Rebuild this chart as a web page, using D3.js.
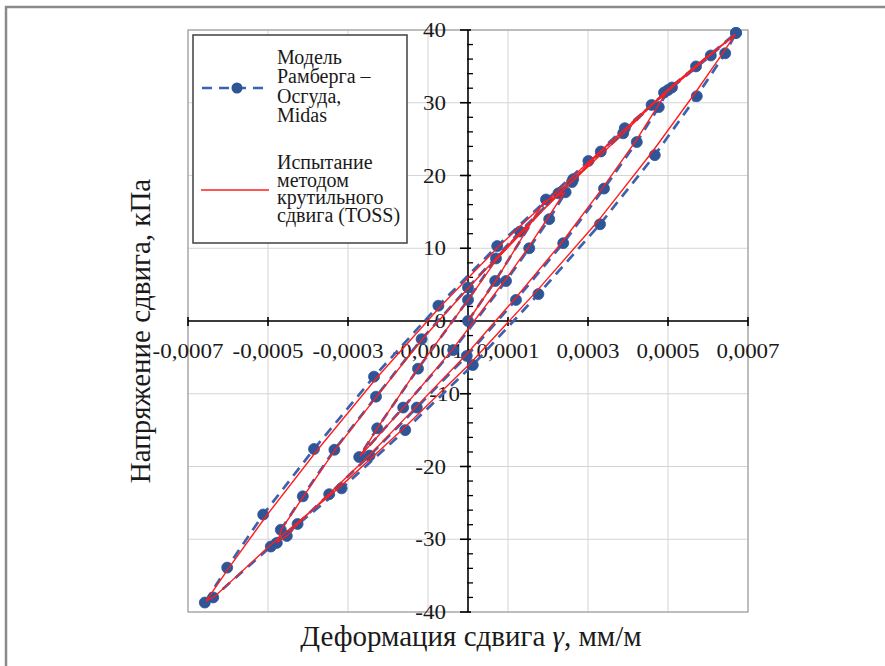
<!DOCTYPE html>
<html><head><meta charset="utf-8">
<script src="https://cdn.jsdelivr.net/npm/d3@7"></script>
<style>
body{margin:0;background:#fff;}
svg{display:block;}
svg text{font-family:"Liberation Serif","DejaVu Serif","Times New Roman",serif;}
</style>
</head><body>
<svg id="c" width="885" height="666"></svg>
<script>
// ---------- data ----------
const xTickValues = [-0.0007,-0.0005,-0.0003,-0.0001,0.0001,0.0003,0.0005,0.0007];
const xTickLabels = ["-0,0007","-0,0005","-0,0003","-0,0001","0,0001","0,0003","0,0005","0,0007"];
const yTickValues = [-40,-30,-20,-10,0,10,20,30,40];
const yTickLabels = ["-40","-30","-20","-10","0","10","20","30","40"];

const legendLines1 = ["Модель","Рамберга –","Осгуда,","Midas"];
const legendLines2 = ["Испытание","методом","крутильного","сдвига (TOSS)"];

// Midas (Ramberg–Osgood) model, in order of loading path
const midasBackbone1 = [[0,0],[0.000068,5.5],[0.000195,16.7],[0.000244,17.7]];
const midasUnload1   = [[0.000203,14.0],[0.000153,10.0],[0.000095,5.5],[-0.000037,-4.0],[-0.000162,-11.9],[-0.000272,-18.7]];
const midasReload1   = [[-0.000227,-14.75],[-0.000125,-6.55],[0,2.9],[0.00007,8.6],[0.000226,17.55]];
const midasBackbone2 = [[0.00026,19.1],[0.000332,23.3],[0.000459,29.7],[0.0005,31.75]];
const midasUnload2   = [[0.000477,29.4],[0.000422,24.6],[0.00034,18.2],[0.000238,10.7],[0.00012,2.9],[-0.000003,-4.8],[-0.000128,-11.9],[-0.000246,-18.5],[-0.000347,-23.8],[-0.000426,-27.9],[-0.000453,-29.55],[-0.000478,-30.5]];
const midasReload2   = [[-0.000468,-28.7],[-0.000413,-24.1],[-0.000334,-17.7],[-0.00023,-10.4],[-0.000116,-2.5],[0,4.6],[0.00013,12.3],[0.000263,19.5],[0.000388,25.8],[0.00049,31.4]];
const midasBackbone3 = [[0.00057,35.0],[0.00067,39.6]];
const midasUnload3   = [[0.000643,36.8],[0.000572,30.9],[0.000467,22.8],[0.00033,13.3],[0.000176,3.7],[0.000012,-6.05],[-0.000157,-15.0],[-0.000316,-23.0],[-0.000493,-31.0],[-0.000637,-38.0],[-0.000658,-38.7]];
const midasReload3   = [[-0.000602,-33.9],[-0.000512,-26.6],[-0.000385,-17.6],[-0.000235,-7.65],[-0.000074,2.1],[0.000073,10.3],[0.000301,22.0],[0.000392,26.5],[0.00051,32.1],[0.000607,36.5],[0.00067,39.6]];

// TOSS test (red line), in order of loading path
const tossBackbone1 = [[0,0],[0.00007,5.6],[0.00019,16.4],[0.00024,17.6]];
const tossUnload1   = [[0.0002,14.2],[0.000152,10.2],[0.000094,5.7],[-0.00004,-4.0],[-0.00016,-11.8],[-0.00027,-18.6]];
const tossReload1   = [[-0.000225,-14.6],[-0.000124,-6.4],[0.000002,3.0],[0.000072,8.5],[0.000224,17.4]];
const tossBackbone2 = [[0.00026,19.2],[0.00033,23.2],[0.000455,29.6],[0.000498,31.6]];
const tossUnload2   = [[0.000474,29.5],[0.00042,24.8],[0.000338,18.4],[0.000236,10.9],[0.000118,3.1],[-0.000004,-4.6],[-0.000128,-11.7],[-0.000244,-18.3],[-0.000344,-23.6],[-0.000424,-27.8],[-0.000452,-29.5],[-0.000476,-30.4]];
const tossReload2   = [[-0.000466,-28.6],[-0.00041,-24.0],[-0.000331,-17.6],[-0.000227,-10.3],[-0.000113,-2.4],[0.000002,4.6],[0.000131,12.2],[0.000263,19.3],[0.000387,25.7],[0.000489,31.3]];
const tossBackbone3 = [[0.00057,35.1],[0.000668,39.4]];
const tossUnload3   = [[0.000638,36.9],[0.000566,31.2],[0.00046,23.2],[0.000323,13.6],[0.00017,4.0],[0.000006,-5.8],[-0.000162,-14.8],[-0.00032,-22.8],[-0.000496,-30.9],[-0.000634,-37.9],[-0.000655,-38.5]];
const tossReload3   = [[-0.000596,-33.8],[-0.000503,-26.7],[-0.000376,-17.7],[-0.000228,-7.8],[-0.000069,2.0],[0.000076,10.2],[0.000302,21.9],[0.000392,26.4],[0.000508,32.0],[0.000605,36.5],[0.000668,39.4]];

// ---------- chart ----------
const midas = [].concat(midasBackbone1,midasUnload1,midasReload1,midasBackbone2,midasUnload2,midasReload2,midasBackbone3,midasUnload3,midasReload3);
const toss  = [].concat(tossBackbone1,tossUnload1,tossReload1,tossBackbone2,tossUnload2,tossReload2,tossBackbone3,tossUnload3,tossReload3);

const FONT = "Liberation Serif, DejaVu Serif, Times New Roman, serif";
const svg = d3.select("#c");
const blueLine = "#3A62B0", blueMark = "#2F5597", red = "#FF1E1E", txt = "#1a1a1a";
const x = d3.scaleLinear().domain([-0.0007,0.0007]).range([188,748]);
const y = d3.scaleLinear().domain([-40,40]).range([612,30]);

// outer frame
svg.append("path").attr("d","M6,700 L6,7 L890,7").attr("fill","none").attr("stroke","#8a8a8a").attr("stroke-width",2.5);

// gridlines
const g = svg.append("g");
g.selectAll(".vg").data(xTickValues).join("line")
  .attr("x1",d=>x(d)).attr("x2",d=>x(d)).attr("y1",y(40)).attr("y2",y(-40))
  .attr("stroke","#d4d4d4").attr("stroke-width",1);
g.selectAll(".hg").data(yTickValues).join("line")
  .attr("x1",x(-0.0007)).attr("x2",x(0.0007)).attr("y1",d=>y(d)).attr("y2",d=>y(d))
  .attr("stroke","#d4d4d4").attr("stroke-width",1);
g.append("rect").attr("x",x(-0.0007)).attr("y",y(40)).attr("width",x(0.0007)-x(-0.0007)).attr("height",y(-40)-y(40))
  .attr("fill","none").attr("stroke","#a0a0a0").attr("stroke-width",1.2);

// axes through zero
const ax = svg.append("g").attr("stroke","#000");
ax.append("line").attr("x1",x(-0.0007)).attr("x2",x(0.0007)).attr("y1",y(0)).attr("y2",y(0)).attr("stroke-width",1.6);
ax.append("line").attr("x1",x(0)).attr("x2",x(0)).attr("y1",y(40)).attr("y2",y(-40)).attr("stroke-width",1.6);
ax.selectAll(".xt").data(xTickValues).join("line")
  .attr("x1",d=>x(d)).attr("x2",d=>x(d)).attr("y1",y(0)-4).attr("y2",y(0)+5).attr("stroke-width",1.6);
ax.selectAll(".yt").data(yTickValues).join("line")
  .attr("x1",x(0)-8).attr("x2",x(0)+3).attr("y1",d=>y(d)).attr("y2",d=>y(d)).attr("stroke-width",1.6);
const yMinor = d3.range(-38,40,2).filter(v=>v%10!==0);
ax.selectAll(".ym").data(yMinor).join("line")
  .attr("x1",x(0)-1).attr("x2",x(0)+5).attr("y1",d=>y(d)).attr("y2",d=>y(d)).attr("stroke-width",1.3);

// tick labels
svg.append("g").selectAll("text").data(xTickValues).join("text")
  .attr("transform",d=>`translate(${x(d)},358) scale(1.15,1)`)
  .attr("text-anchor","middle").attr("font-family",FONT).attr("font-size",20).attr("fill",txt)
  .text((d,i)=>xTickLabels[i]);
svg.append("g").selectAll("text").data(yTickValues).join("text")
  .attr("transform",d=>`translate(${d===-10?460:446},${y(d)+7}) scale(1.15,1)`)
  .attr("text-anchor","end").attr("font-family",FONT).attr("font-size",20).attr("fill",txt)
  .text((d,i)=>yTickLabels[i]);

// axis titles
svg.append("text").attr("transform",`translate(150,331) rotate(-90)`).attr("text-anchor","middle")
  .attr("font-family",FONT).attr("font-size",29).attr("fill",txt).text("Напряжение сдвига, кПа");
const xt = svg.append("text").attr("x",471).attr("y",646).attr("text-anchor","middle")
  .attr("font-family",FONT).attr("font-size",29).attr("fill",txt);
xt.append("tspan").text("Деформация сдвига  ");
xt.append("tspan").attr("font-style","italic").text("γ");
xt.append("tspan").text(", мм/м");

// series
const line = d3.line().x(d=>x(d[0])).y(d=>y(d[1]));
svg.append("path").datum(midas).attr("d",line).attr("fill","none")
  .attr("stroke",blueLine).attr("stroke-width",2.7).attr("stroke-dasharray","10,7");
svg.append("g").selectAll("circle").data(midas).join("circle")
  .attr("cx",d=>x(d[0])).attr("cy",d=>y(d[1])).attr("r",5.5).attr("fill",blueMark).attr("stroke",blueMark).attr("stroke-width",0.8);
svg.append("path").datum(toss).attr("d",line).attr("fill","none")
  .attr("stroke",red).attr("stroke-width",1.4);

// legend
const lg = svg.append("g");
lg.append("rect").attr("x",193).attr("y",35).attr("width",214).attr("height",208)
  .attr("fill","#fff").attr("stroke","#404040").attr("stroke-width",1.5);
lg.append("line").attr("x1",201).attr("x2",269).attr("y1",88).attr("y2",88)
  .attr("stroke",blueLine).attr("stroke-width",2.7).attr("stroke-dasharray","10,7").attr("stroke-dashoffset",-1);
lg.append("circle").attr("cx",237).attr("cy",88).attr("r",5.5).attr("fill",blueMark);
lg.append("line").attr("x1",201).attr("x2",269).attr("y1",190).attr("y2",190).attr("stroke",red).attr("stroke-width",1.4);
const t1 = lg.append("text").attr("x",277).attr("y",64).attr("font-family",FONT).attr("font-size",20).attr("fill",txt);
t1.selectAll("tspan").data(legendLines1).join("tspan").attr("x",277).attr("dy",(d,i)=>i===0?0:19.3).text(d=>d);
const t2 = lg.append("text").attr("x",277).attr("y",169).attr("font-family",FONT).attr("font-size",20).attr("fill",txt);
t2.selectAll("tspan").data(legendLines2).join("tspan").attr("x",277).attr("dy",(d,i)=>i===0?0:17.6).text(d=>d);
</script>
</body></html>
